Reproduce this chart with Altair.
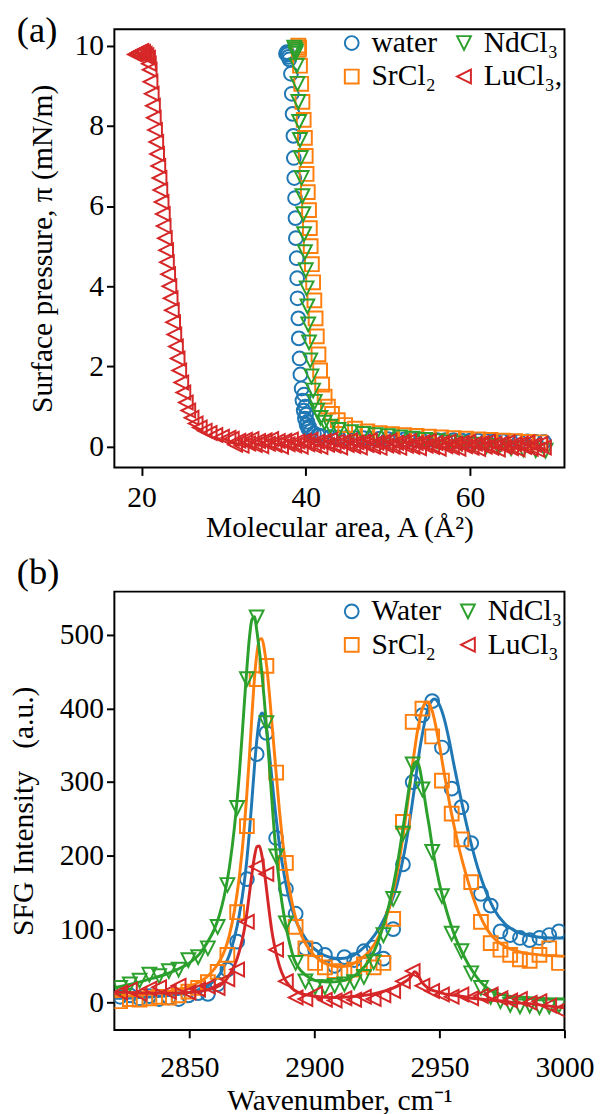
import altair as alt
import pandas as pd

FONT = "Liberation Serif"
COLORS = ["#1f77b4", "#ff7f0e", "#2ca02c", "#d62728"]
# marker paths in a unit box (matplotlib-like triangles)
SHAPES = ["circle", "square", "M-1,-1L1,-1L0,1Z", "M1,-1L1,1L-1,0Z"]

# ---------------- Panel (a): isotherms ----------------
LABELS_A = ["water", "SrCl₂", "NdCl₃", "LuCl₃,"]

AREA_WATER = [37.6, 37.7, 37.8, 37.9, 38.0, 38.2, 38.3, 38.4, 38.5, 38.55,
              38.6, 38.7, 38.75, 38.8, 38.9, 38.95, 39.0, 39.1, 39.15, 39.25,
              39.35, 39.5, 39.6, 39.75, 39.9, 40.1, 40.3, 40.6, 41.0, 41.5,
              39.8, 39.95, 40.05, 40.2, 40.4,
              42, 43, 44, 45, 46, 47, 48, 49, 50, 51, 52, 53, 54, 55, 56,
              57, 58, 59, 60, 61, 62, 63, 64, 65, 66, 67, 68, 69]
PI_WATER = [9.80, 9.84, 9.78, 9.72, 9.66, 9.30, 8.80, 8.30, 7.75, 7.20,
            6.70, 6.20, 5.70, 5.20, 4.70, 4.20, 3.70, 3.20, 2.70, 2.20,
            1.80, 1.45, 1.15, 0.90, 0.70, 0.55, 0.45, 0.38, 0.33, 0.28,
            1.30, 1.00, 0.80, 0.62, 0.50,
            0.26, 0.24, 0.23, 0.22, 0.21, 0.21, 0.20, 0.20, 0.19, 0.19, 0.18, 0.18, 0.17, 0.17, 0.16,
            0.16, 0.16, 0.15, 0.15, 0.15, 0.14, 0.14, 0.14, 0.13, 0.13, 0.13, 0.12, 0.12]

AREA_SR = [39.1, 39.2, 39.15, 39.3, 39.45, 39.6, 39.75, 39.9, 40.0, 40.1,
           40.25, 40.4, 40.5, 40.6, 40.75, 40.9, 41.05, 41.2, 41.35, 41.55,
           41.75, 42.0, 42.3, 42.7, 43.2, 43.9, 44.8, 46.0, 47.5, 49.0,
           50.5, 52.0, 53.5, 55.0, 56.5, 58.0, 59.5, 61.0, 62.5, 64.0,
           65.5, 67.0, 68.5]
PI_SR = [10.0, 9.95, 9.90, 9.50, 9.05, 8.60, 8.15, 7.70, 7.25, 6.80,
         6.35, 5.90, 5.45, 5.00, 4.55, 4.10, 3.65, 3.20, 2.75, 2.30,
         1.90, 1.55, 1.25, 1.00, 0.82, 0.66, 0.54, 0.45, 0.38, 0.34,
         0.31, 0.29, 0.27, 0.25, 0.23, 0.21, 0.20, 0.18, 0.17, 0.15,
         0.14, 0.12, 0.11]

AREA_ND = [38.6, 38.7, 38.8, 38.75, 38.9, 39.0, 39.1, 39.2, 39.3, 39.4,
           39.5, 39.6, 39.7, 39.8, 39.9, 40.0, 40.1, 40.2, 40.3, 40.4,
           40.55, 40.7, 40.9, 41.1, 41.4, 41.8, 42.3, 43.0, 44.0, 45.5,
           47.0, 48.5, 50.0, 51.5, 53.0, 54.5, 56.0, 57.5, 59.0, 60.5,
           62.0, 63.5, 65.0, 66.5, 68.0, 69.2]
PI_ND = [9.95, 9.90, 9.85, 9.80, 9.50, 9.05, 8.60, 8.10, 7.65, 7.20,
         6.70, 6.25, 5.80, 5.30, 4.85, 4.40, 3.95, 3.50, 3.05, 2.60,
         2.15, 1.75, 1.40, 1.12, 0.90, 0.72, 0.60, 0.50, 0.42, 0.36,
         0.32, 0.29, 0.26, 0.23, 0.20, 0.17, 0.14, 0.11, 0.08, 0.05,
         0.02, -0.01, -0.04, -0.07, -0.09, -0.10]

AREA_LU = [19.2, 19.4, 19.6, 19.8, 20.0, 20.2, 20.4, 20.6, 20.8, 20.9,
           21.0, 21.1, 21.25, 21.4, 21.5, 21.65, 21.8, 21.9, 22.05, 22.2,
           22.3, 22.45, 22.6, 22.7, 22.85, 23.0, 23.1, 23.25, 23.4, 23.55,
           23.7, 23.85, 24.0, 24.2, 24.4, 24.6, 24.85, 25.1, 25.4, 25.7,
           26.1, 26.6, 27.1, 27.7, 28.3, 29.0, 29.8, 30.6,
           31.0, 31.4, 31.8, 32.2, 32.6, 33.0, 33.4, 33.8, 34.2, 34.6,
           35.0, 35.4, 35.8, 36.2, 36.6, 37.0, 37.4, 37.8, 38.2, 38.6,
           39.0, 39.4, 39.8, 40.2, 40.6, 41.0, 41.4, 41.8, 42.2, 42.6,
           43.0, 43.4, 43.8, 44.2, 44.6, 45.0, 45.4, 45.8, 46.2, 46.6,
           47.0, 47.4, 47.8, 48.2, 48.6, 49.0, 49.4, 49.8, 50.2, 50.6,
           51.0, 51.4, 51.8, 52.2, 52.6, 53.0, 53.4, 53.8, 54.2, 54.6,
           55.0, 55.4, 55.8, 56.2, 56.6, 57.0, 57.4, 57.8, 58.2, 58.6,
           59.0, 59.4, 59.8, 60.2, 60.6, 61.0, 61.4, 61.8, 62.2, 62.6,
           63.0, 63.4, 63.8, 64.2, 64.6, 65.0, 65.4, 65.8, 66.2, 66.6,
           67.0, 67.4, 67.8, 68.2, 68.6, 69.0]
PI_LU = [9.78, 9.80, 9.82, 9.85, 9.87, 9.84, 9.80, 9.76, 9.70, 9.55,
         9.40, 9.10, 8.80, 8.50, 8.20, 7.90, 7.60, 7.30, 7.00, 6.70,
         6.40, 6.10, 5.80, 5.50, 5.20, 4.90, 4.60, 4.30, 4.00, 3.70,
         3.40, 3.10, 2.80, 2.50, 2.20, 1.90, 1.60, 1.35, 1.10, 0.90,
         0.72, 0.58, 0.48, 0.40, 0.34, 0.29, 0.25, 0.22,
         0.20, 0.05, 0.15, 0.02, 0.17, 0.08, 0.19, 0.04, 0.14, 0.01,
         0.16, 0.07, 0.19, 0.04, 0.14, 0.00, 0.15, 0.06, 0.18, 0.03,
         0.13, 0.00, 0.15, 0.06, 0.17, 0.02, 0.12, -0.01, 0.14, 0.05,
         0.17, 0.02, 0.12, -0.02, 0.13, 0.04, 0.16, 0.01, 0.11, -0.02,
         0.13, 0.04, 0.16, 0.00, 0.10, -0.03, 0.12, 0.03, 0.15, 0.00,
         0.10, -0.03, 0.12, 0.02, 0.14, -0.01, 0.09, -0.04, 0.11, 0.02,
         0.14, -0.01, 0.09, -0.05, 0.10, 0.01, 0.13, -0.02, 0.08, -0.05,
         0.10, 0.01, 0.12, -0.03, 0.07, -0.06, 0.09, 0.00, 0.12, -0.03,
         0.07, -0.07, 0.08, -0.01, 0.11, -0.04, 0.06, -0.07, 0.08, -0.01,
         0.11, -0.05, 0.05, -0.08, 0.07, -0.02]

# ---------------- Panel (b): SFG spectra ----------------
LABELS_B = ["Water", "SrCl₂", "NdCl₃", "LuCl₃"]

WN = [2822.3, 2826.2, 2830.1, 2834.0, 2837.9, 2841.8, 2845.7, 2849.6, 2853.5, 2857.4,
      2861.3, 2865.2, 2869.1, 2873.0, 2876.9, 2880.8, 2884.7, 2888.6, 2892.5, 2896.4,
      2900.3, 2904.2, 2908.1, 2912.0, 2915.9, 2919.8, 2923.7, 2927.6, 2931.5, 2935.4,
      2939.3, 2943.2, 2947.1, 2951.0, 2954.9, 2958.8, 2962.7, 2966.6, 2970.5, 2974.4,
      2978.3, 2982.2, 2986.1, 2990.0, 2993.9, 2997.8]
SFG_WATER = [8, 10, 6, 9, 5, 7, 5, 10, 13, 12,
             25, 45, 83, 168, 338, 367, 224, 155, 121, 74,
             72, 65, 50, 62, 58, 70, 75, 60, 100, 188,
             300, 391, 410, 347, 291, 266, 217, 148, 132, 97,
             92, 88, 85, 88, 92, 97]
SFG_SR = [2, 5, 4, 6, 8, 7, 10, 15, 20, 28,
          42, 65, 123, 240, 440, 458, 313, 190, 103, 74,
          54, 48, 43, 40, 45, 52, 48, 54, 114, 246,
          382, 400, 362, 302, 257, 222, 164, 110, 81, 72,
          65, 59, 57, 65, 74, 54]
SFG_ND = [20, 25, 30, 38, 36, 43, 45, 58, 62, 74,
          103, 160, 265, 440, 524, 380, 199, 108, 54, 29,
          21, 21, 23, 25, 28, 35, 55, 92, 141, 230,
          324, 290, 205, 145, 94, 70, 40, 20, 8, 2,
          -3, -5, -4, -6, -5, -4]
SFG_LU = [14, 18, 12, 19, 21, 15, 23, 14, 18, 22,
          20, 32, 45, 110, 185, 175, 72, 29, 7, 5,
          12, 4, 3, 6, 4, 8, 5, 10, 16, 29,
          43, 23, 16, 11, 8, 11, 6, 9, 11, 6,
          3, 5, 0, 2, -4, -10]

FIT_WN = [2820, 2825, 2830, 2835, 2840, 2845, 2850, 2854, 2857, 2860,
          2862, 2864, 2866, 2868, 2870, 2872, 2873, 2874, 2875, 2876,
          2877, 2878, 2879, 2880, 2881, 2882, 2883, 2884, 2886, 2888,
          2890, 2892, 2895, 2898, 2902, 2906, 2910, 2914, 2918, 2922,
          2926, 2930, 2933, 2936, 2938, 2939, 2940, 2941, 2942, 2943,
          2944, 2945, 2946, 2947, 2948, 2949, 2950, 2952, 2954, 2956,
          2958, 2960, 2963, 2966, 2969, 2972, 2976, 2980, 2985, 2990,
          2995, 3000]
FIT_WATER = [6, 6, 7, 8, 9, 11, 14, 18, 23, 30,
             38, 50, 65, 88, 120, 165, 195, 232, 275, 320,
             358, 385, 394, 388, 368, 338, 305, 272, 215, 172,
             140, 117, 95, 80, 68, 62, 60, 62, 70, 83,
             102, 130, 160, 205, 245, 268, 292, 318, 342, 362,
             380, 395, 405, 411, 413, 411, 405, 385, 355, 320,
             287, 255, 212, 176, 148, 126, 108, 98, 92, 89,
             88, 88]
FIT_SR = [8, 9, 10, 12, 14, 17, 22, 28, 35, 46,
          56, 70, 92, 125, 172, 240, 285, 335, 390, 440,
          475, 494, 495, 480, 455, 420, 380, 340, 262, 200,
          155, 122, 90, 72, 58, 51, 49, 51, 58, 70,
          92, 130, 175, 240, 290, 318, 342, 365, 383, 398,
          406, 409, 406, 398, 385, 368, 350, 310, 272, 238,
          208, 182, 148, 120, 100, 87, 77, 71, 67, 65,
          64, 63]
FIT_ND = [20, 24, 28, 33, 38, 45, 54, 66, 81, 100,
          119, 146, 184, 238, 312, 408, 455, 496, 521, 525,
          505, 478, 448, 410, 368, 322, 275, 230, 162, 115,
          82, 58, 42, 34, 29, 28, 29, 33, 42, 58,
          88, 135, 185, 250, 295, 315, 326, 328, 320, 302,
          280, 258, 238, 215, 195, 178, 162, 135, 112, 92,
          76, 62, 44, 30, 20, 14, 10, 8, 7, 6,
          5, 5]
FIT_LU = [14, 14, 13, 13, 13, 13, 14, 15, 17, 20,
          23, 28, 38, 50, 70, 100, 122, 148, 175, 198,
          212, 213, 200, 178, 150, 122, 97, 78, 50, 33,
          23, 17, 12, 10, 8, 7, 7, 8, 9, 11,
          14, 18, 22, 28, 33, 37, 42, 40, 34, 28,
          24, 21, 19, 17, 16, 15, 14, 12, 11, 10,
          9, 8, 6, 5, 4, 3, 2, 0, -1, -3,
          -5, -7]


def legend(ly):
    return alt.Legend(title=None, orient="none", legendX=226, legendY=ly, columns=2, padding=0,
                      labelFont=FONT, labelFontSize=30, labelColor="black", labelOffset=5,
                      symbolSize=196, symbolStrokeWidth=2, columnPadding=12, rowPadding=4)


def point_layer(df, labels, xs, ys, xax, yax, ly):
    return alt.Chart(df).mark_point(filled=False, size=196, strokeWidth=2, opacity=1, clip=True).encode(
        x=alt.X("x:Q", scale=xs, axis=xax),
        y=alt.Y("y:Q", scale=ys, axis=yax),
        color=alt.Color("series:N", scale=alt.Scale(domain=labels, range=COLORS), legend=legend(ly)),
        shape=alt.Shape("series:N", scale=alt.Scale(domain=labels, range=SHAPES), legend=legend(ly)),
    )


def title(text, dy):
    return alt.TitleParams(text, anchor="start", frame="group", orient="top", offset=0, dx=-99, dy=dy,
                           font=FONT, fontSize=37, fontWeight="normal", color="black", baseline="alphabetic")


# panel a
xs_a = alt.Scale(domain=[16.7, 71.5], nice=False, zero=False)
ys_a = alt.Scale(domain=[-0.52, 10.41], nice=False, zero=False)
xax_a = alt.Axis(values=[20, 40, 60], format="d", title="Molecular area, A (Å²)", labelPadding=8, titlePadding=0)
yax_a = alt.Axis(values=[0, 2, 4, 6, 8, 10], format="d", title="Surface pressure, π (mN/m)",
                 labelPadding=3, titlePadding=17)
layers_a = []
for lab, xa, ya in zip(LABELS_A, [AREA_WATER, AREA_SR, AREA_ND, AREA_LU], [PI_WATER, PI_SR, PI_ND, PI_LU]):
    df = pd.DataFrame({"x": xa, "y": ya, "series": lab})
    layers_a.append(point_layer(df, LABELS_A, xs_a, ys_a, xax_a, yax_a, -1))
panel_a = alt.layer(*layers_a).properties(width=457, height=445, title=title("(a)", 51))

# panel b
xs_b = alt.Scale(domain=[2820, 3000], nice=False, zero=False)
ys_b = alt.Scale(domain=[-37, 559], nice=False, zero=False)
xax_b = alt.Axis(values=[2850, 2900, 2950, 3000], format="d", title="Wavenumber, cm⁻¹",
                 labelPadding=15, titlePadding=4, labelFlush=False)
yax_b = alt.Axis(values=[0, 100, 200, 300, 400, 500], format="d", title="SFG Intensity\u00a0\u00a0\u00a0(a.u.)",
                 labelPadding=3, titlePadding=21)
layers_b = []
for i, (lab, sv, fv) in enumerate(zip(LABELS_B, [SFG_WATER, SFG_SR, SFG_ND, SFG_LU],
                                      [FIT_WATER, FIT_SR, FIT_ND, FIT_LU])):
    dfp = pd.DataFrame({"x": WN, "y": sv, "series": lab})
    dfl = pd.DataFrame({"x": FIT_WN, "y": fv})
    layers_b.append(point_layer(dfp, LABELS_B, xs_b, ys_b, xax_b, yax_b, 5))
    layers_b.append(alt.Chart(dfl).mark_line(strokeWidth=3, interpolate="monotone", clip=True).encode(
        x=alt.X("x:Q", scale=xs_b, axis=xax_b),
        y=alt.Y("y:Q", scale=ys_b, axis=yax_b),
        color=alt.value(COLORS[i]),
    ))
panel_b = alt.layer(*layers_b).properties(width=457, height=445, title=title("(b)", 29))

chart = alt.vconcat(panel_a, panel_b, spacing=126, bounds="flush",
                    padding={"left": 0, "top": -5, "right": 0, "bottom": 0}).resolve_scale(
    color="independent", shape="independent", x="independent", y="independent"
).resolve_legend(color="independent", shape="independent").configure(
    font=FONT, background="white"
).configure_view(stroke="black", strokeWidth=2).configure_axis(
    labelFont=FONT, titleFont=FONT, labelFontSize=30, titleFontSize=30, titleFontWeight="normal",
    labelColor="black", titleColor="black", tickColor="black", tickWidth=2, tickSize=8,
    domain=False, grid=False
)

chart.save("out.html", embed_options={"renderer": "svg", "actions": False})
